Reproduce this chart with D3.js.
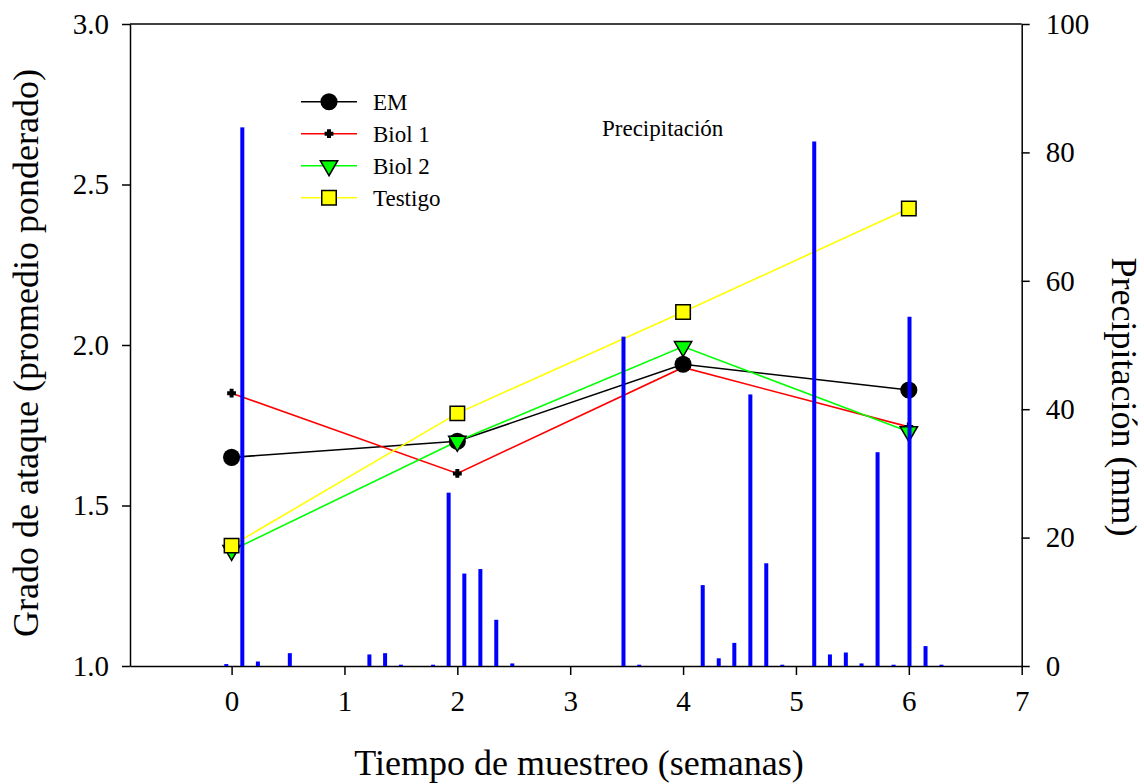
<!DOCTYPE html>
<html>
<head>
<meta charset="utf-8">
<script src="https://cdn.jsdelivr.net/npm/d3@7"></script>
<style>
  body { margin: 0; background: #fff; }
  svg text { font-family: "Liberation Serif", "Times New Roman", serif; fill: #000; }
  .axis path, .axis line { stroke: #000; stroke-width: 1.5; }
</style>
</head>
<body>
<div id="chart"></div>
<script>
// sampling times (weeks) and attack grade per treatment
var weeks   = [0, 2, 4, 6];
var em      = [1.65, 1.70, 1.94, 1.86];
var biol1   = [1.85, 1.60, 1.93, 1.745];
var biol2   = [1.36, 1.70, 1.995, 1.73];
var testigo = [1.375, 1.787, 2.103, 2.425];

// daily rainfall: position in weeks, mm
var rainWeek = [-0.047, 0.095, 0.233, 0.516, 1.221, 1.36, 1.50, 1.785, 1.923, 2.062,
                2.204, 2.345, 2.487, 3.472, 3.611, 4.174, 4.316, 4.454, 4.596, 4.737,
                4.879, 5.162, 5.301, 5.442, 5.581, 5.723, 5.865, 6.006, 6.148, 6.289];
var rainMm   = [0.3, 83.9, 0.7, 2.0, 1.8, 2.0, 0.2, 0.2, 27.0, 14.4,
                15.1, 7.2, 0.4, 51.3, 0.2, 12.6, 1.2, 3.6, 42.3, 16.0,
                0.2, 81.7, 1.8, 2.1, 0.4, 33.3, 0.2, 54.4, 3.1, 0.2];

var xTicks = [0, 1, 2, 3, 4, 5, 6, 7];
var yTicks = [1.0, 1.5, 2.0, 2.5, 3.0];
var rTicks = [0, 20, 40, 60, 80, 100];

var series = [
    {name: "EM",      values: em,      color: "#000000", symbol: d3.symbolCircle,   size: 230, fill: "#000000", rot: 0},
    {name: "Biol 1",  values: biol1,   color: "#ff0000", symbol: d3.symbolCross,    size: 30,  fill: "#000000", rot: 0},
    {name: "Biol 2",  values: biol2,   color: "#00ff00", symbol: d3.symbolTriangle, size: 130, fill: "#00ff00", rot: 180},
    {name: "Testigo", values: testigo, color: "#ffff00", symbol: d3.symbolSquare,   size: 210, fill: "#ffff00", rot: 0}
];

var FONT = '"Liberation Serif", "Times New Roman", serif';
var W = 1144, H = 784;
var m = {top: 24, right: 122.3, bottom: 118, left: 130};
var w = W - m.left - m.right,
    h = H - m.top - m.bottom;

var x = d3.scaleLinear().domain([-0.9, 7]).range([0, w]);
var y = d3.scaleLinear().domain([1, 3]).range([h, 0]);
var yr = d3.scaleLinear().domain([0, 100]).range([h, 0]);

var svg = d3.select("#chart").append("svg")
    .attr("width", W)
    .attr("height", H)
    .attr("font-family", FONT)
    .append("g")
        .attr("transform", "translate(" + m.left + "," + m.top + ")");

// frame top line
svg.append("line")
    .attr("x1", 0).attr("x2", w)
    .attr("y1", 0).attr("y2", 0)
    .attr("stroke", "#000").attr("stroke-width", 1.5);

var xAxis = svg.append("g")
    .attr("class", "axis")
    .attr("transform", "translate(0," + h + ")")
    .call(d3.axisBottom(x).tickValues(xTicks).tickFormat(d3.format("d")).tickSize(9).tickSizeOuter(0));

var yAxis = svg.append("g")
    .attr("class", "axis")
    .call(d3.axisLeft(y).tickValues(yTicks).tickFormat(d3.format(".1f")).tickSize(8).tickSizeOuter(0));

var rAxis = svg.append("g")
    .attr("class", "axis")
    .attr("transform", "translate(" + w + ",0)")
    .call(d3.axisRight(yr).tickValues(rTicks).tickSize(8).tickSizeOuter(0));

svg.selectAll(".axis").attr("font-family", FONT).attr("font-size", 29);
xAxis.selectAll("text").attr("dy", "1.15em");
yAxis.selectAll("text").attr("x", -21);
rAxis.selectAll("text").attr("x", 24);

// treatment lines
var line = d3.line()
    .x(function (d, i) { return x(weeks[i]); })
    .y(function (d) { return y(d); });

series.forEach(function (s) {
    svg.append("path")
        .datum(s.values)
        .attr("fill", "none")
        .attr("stroke", s.color)
        .attr("stroke-width", 1.6)
        .attr("d", line);
});

series.forEach(function (s) {
    svg.selectAll(null)
        .data(s.values)
        .enter().append("path")
        .attr("d", d3.symbol().type(s.symbol).size(s.size))
        .attr("transform", function (d, i) {
            return "translate(" + x(weeks[i]) + "," + y(d) + ") rotate(" + s.rot + ")";
        })
        .attr("fill", s.fill)
        .attr("stroke", "#000")
        .attr("stroke-width", s.name === "EM" ? 0 : 1.5);
});

// rainfall bars, drawn on top
svg.selectAll(".rain")
    .data(rainMm)
    .enter().append("rect")
    .attr("class", "rain")
    .attr("x", function (d, i) { return x(rainWeek[i]) - 2; })
    .attr("y", function (d) { return yr(d); })
    .attr("width", 4)
    .attr("height", function (d) { return h - yr(d); })
    .attr("fill", "#0000ff");

// legend
var legend = svg.append("g")
    .attr("transform", "translate(" + (301 - m.left) + "," + (101.7 - m.top) + ")");
var item = legend.selectAll("g")
    .data(series)
    .enter().append("g")
    .attr("transform", function (d, i) { return "translate(0," + (i * 32) + ")"; });
item.append("line")
    .attr("x1", 0).attr("x2", 56)
    .attr("stroke", function (d) { return d.color; })
    .attr("stroke-width", 1.6);
item.append("path")
    .attr("d", function (d) { return d3.symbol().type(d.symbol).size(d.size)(); })
    .attr("transform", function (d) { return "translate(28,0) rotate(" + d.rot + ")"; })
    .attr("fill", function (d) { return d.fill; })
    .attr("stroke", "#000")
    .attr("stroke-width", function (d) { return d.name === "EM" ? 0 : 1.5; });
item.append("text")
    .attr("x", 72)
    .attr("dy", "0.35em")
    .attr("font-size", 23)
    .text(function (d) { return d.name; });

svg.append("text")
    .attr("x", 602 - m.left)
    .attr("y", 135.5 - m.top)
    .attr("font-size", 23)
    .text("Precipitación");

// axis titles
svg.append("text")
    .attr("x", 579 - m.left)
    .attr("y", 775 - m.top)
    .attr("text-anchor", "middle")
    .attr("font-size", 36)
    .text("Tiempo de muestreo (semanas)");

svg.append("text")
    .attr("transform", "translate(" + (38 - m.left) + "," + (353 - m.top) + ") rotate(-90)")
    .attr("text-anchor", "middle")
    .attr("font-size", 36)
    .text("Grado de ataque (promedio ponderado)");

svg.append("text")
    .attr("transform", "translate(" + (1112 - m.left) + "," + (397 - m.top) + ") rotate(90)")
    .attr("text-anchor", "middle")
    .attr("font-size", 36)
    .text("Precipitación (mm)");
</script>
</body>
</html>
